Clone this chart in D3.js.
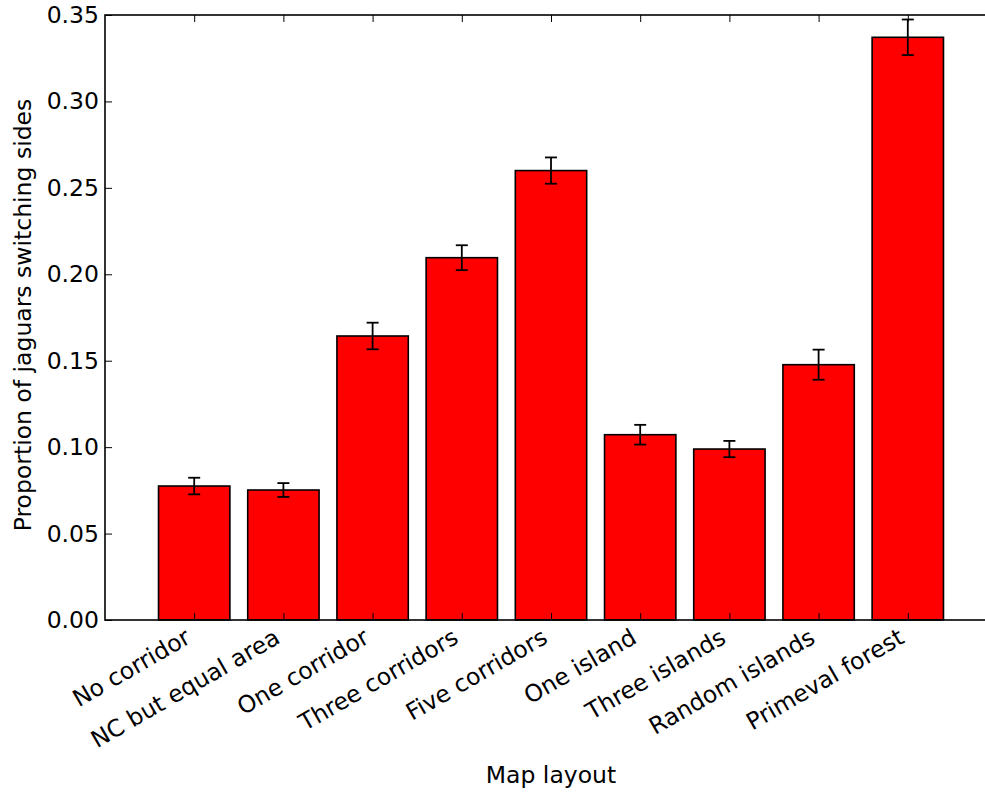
<!DOCTYPE html>
<html>
<head>
<meta charset="utf-8">
<script src="https://cdn.jsdelivr.net/npm/d3@7/dist/d3.min.js"></script>
<style>
  html, body { margin: 0; padding: 0; background: #fff; }
  svg { display: block; font-family: "DejaVu Sans", sans-serif; }
</style>
</head>
<body>
<svg id="chart" width="985" height="792"></svg>
<script>
const categories = ["No corridor", "NC but equal area", "One corridor", "Three corridors",
  "Five corridors", "One island", "Three islands", "Random islands", "Primeval forest"];
const values = [0.0775, 0.0752, 0.1643, 0.2096, 0.2600, 0.1072, 0.0989, 0.1477, 0.3371];
const errors = [0.0048, 0.0040, 0.0077, 0.0072, 0.0076, 0.0057, 0.0047, 0.0087, 0.0103];
const yTicks = [0, 0.05, 0.10, 0.15, 0.20, 0.25, 0.30, 0.35];
const xLabel = "Map layout";
const yLabel = "Proportion of jaguars switching sides";

(function () {
const svg = d3.select("#chart");
const mL = 105, mR = 997, mT = 15, mB = 620;
const fs = 23.5;

const x = d3.scaleLinear().domain([-1, 9]).range([mL, mR]);
const y = d3.scaleLinear().domain([0, 0.35]).range([mB, mT]);
const bw = x(0.8) - x(0);

// bars
svg.append("g").selectAll("rect").data(values).join("rect")
  .attr("x", (d, i) => x(i) - bw / 2)
  .attr("y", d => y(d))
  .attr("width", bw)
  .attr("height", d => y(0) - y(d))
  .attr("fill", "#ff0000")
  .attr("stroke", "#000")
  .attr("stroke-width", 1.6);

// error bars
const eg = svg.append("g").attr("stroke", "#000").attr("stroke-width", 1.8);
values.forEach((v, i) => {
  const cx = x(i), e = errors[i];
  eg.append("line").attr("x1", cx).attr("x2", cx).attr("y1", y(v + e)).attr("y2", y(v - e));
  eg.append("line").attr("x1", cx - 6).attr("x2", cx + 6).attr("y1", y(v + e)).attr("y2", y(v + e));
  eg.append("line").attr("x1", cx - 6).attr("x2", cx + 6).attr("y1", y(v - e)).attr("y2", y(v - e));
});

// y axis (ticks inward)
const yAxis = d3.axisLeft(y).tickValues(yTicks).tickFormat(d3.format(".2f")).tickSizeInner(-7).tickSizeOuter(0).tickPadding(6);
const yg = svg.append("g").attr("transform", `translate(${mL},0)`).call(yAxis);
yg.select(".domain").remove();
yg.selectAll(".tick line").attr("stroke", "#000").attr("stroke-width", 1);
yg.selectAll(".tick text").attr("font-size", fs).attr("font-family", "DejaVu Sans").attr("fill", "#000");

// right ticks (inward)
const yr = d3.axisRight(y).tickValues(yTicks).tickFormat("").tickSizeInner(-7).tickSizeOuter(0);
const yrg = svg.append("g").attr("transform", `translate(${mR},0)`).call(yr);
yrg.select(".domain").remove();
yrg.selectAll(".tick line").attr("stroke", "#000");

// x axis ticks inward (bottom and top)
const xTicks = d3.range(categories.length);
const xa = d3.axisBottom(x).tickValues(xTicks).tickFormat("").tickSizeInner(-7).tickSizeOuter(0);
const xg = svg.append("g").attr("transform", `translate(0,${mB})`).call(xa);
xg.select(".domain").remove();
xg.selectAll(".tick line").attr("stroke", "#000");
const xt = d3.axisTop(x).tickValues(xTicks).tickFormat("").tickSizeInner(-7).tickSizeOuter(0);
const xtg = svg.append("g").attr("transform", `translate(0,${mT})`).call(xt);
xtg.select(".domain").remove();
xtg.selectAll(".tick line").attr("stroke", "#000");

// category labels rotated
svg.append("g").selectAll("text").data(categories).join("text")
  .attr("transform", (d, i) => `translate(${x(i) - 2},${642}) rotate(-30)`)
  .attr("text-anchor", "end")
  .attr("font-size", fs)
  .attr("fill", "#000")
  .text(d => d);

// frame
svg.append("rect")
  .attr("x", mL).attr("y", mT)
  .attr("width", mR - mL).attr("height", mB - mT)
  .attr("fill", "none").attr("stroke", "#000").attr("stroke-width", 1.6);

// axis labels
svg.append("text")
  .attr("x", (mL + mR) / 2).attr("y", 783)
  .attr("text-anchor", "middle").attr("font-size", fs).attr("fill", "#000")
  .text(xLabel);
svg.append("text")
  .attr("transform", `translate(31,315) rotate(-90)`)
  .attr("text-anchor", "middle").attr("font-size", fs).attr("fill", "#000")
  .text(yLabel);
})();
</script>
</body>
</html>
